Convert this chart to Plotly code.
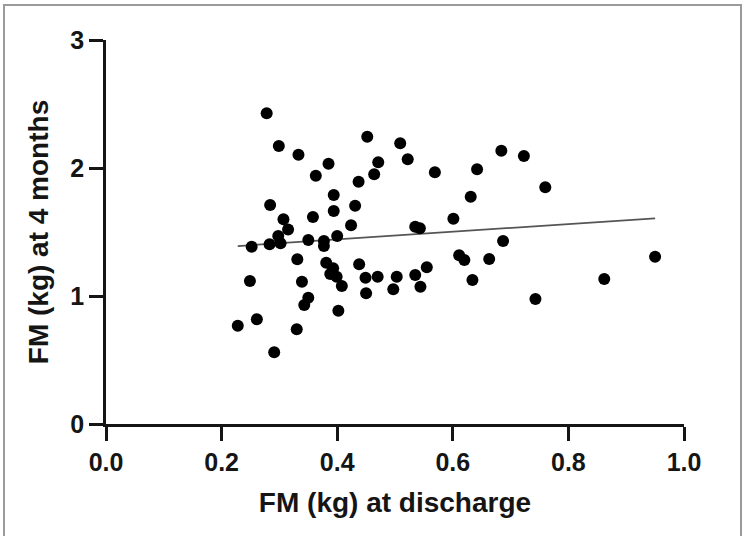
import plotly.graph_objects as go

# FM (kg) at discharge
fm_discharge = [
    0.278, 0.299, 0.333, 0.385, 0.363, 0.394, 0.394, 0.284, 0.307, 0.358,
    0.315, 0.298, 0.252, 0.283, 0.302, 0.350, 0.377, 0.377, 0.400, 0.331,
    0.381, 0.393, 0.388, 0.399, 0.408, 0.249, 0.339, 0.350, 0.343, 0.402,
    0.228, 0.261, 0.330, 0.291, 0.452, 0.509, 0.522, 0.471, 0.464, 0.437,
    0.569, 0.431, 0.424, 0.535, 0.543, 0.601, 0.631, 0.438, 0.449, 0.470,
    0.450, 0.503, 0.497, 0.535, 0.555, 0.544, 0.611, 0.620, 0.684, 0.723,
    0.642, 0.760, 0.687, 0.663, 0.634, 0.862, 0.950, 0.743,
]
# FM (kg) at 4 months
fm_4months = [
    2.427, 2.172, 2.104, 2.034, 1.940, 1.789, 1.664, 1.711, 1.599, 1.617,
    1.520, 1.469, 1.385, 1.404, 1.412, 1.438, 1.430, 1.390, 1.469, 1.287,
    1.260, 1.216, 1.172, 1.151, 1.078, 1.117, 1.112, 0.987, 0.930, 0.885,
    0.768, 0.818, 0.740, 0.560, 2.245, 2.193, 2.068, 2.045, 1.951, 1.893,
    1.966, 1.705, 1.552, 1.541, 1.529, 1.604, 1.776, 1.248, 1.143, 1.151,
    1.021, 1.151, 1.052, 1.164, 1.224, 1.073, 1.318, 1.281, 2.135, 2.094,
    1.990, 1.849, 1.430, 1.289, 1.125, 1.133, 1.307, 0.977,
]

# regression line
fit_slope = 0.30
fit_intercept = 1.322

x_ticks = [0.0, 0.2, 0.4, 0.6, 0.8, 1.0]
x_tick_labels = ["0.0", "0.2", "0.4", "0.6", "0.8", "1.0"]
y_ticks = [0, 1, 2, 3]
y_tick_labels = ["0", "1", "2", "3"]

x_min = min(fm_discharge)
x_max = max(fm_discharge)
fit_x = [x_min, x_max]
fit_y = [fit_intercept + fit_slope * v for v in fit_x]

FONT = "Liberation Sans, Arial, sans-serif"
INK = "#151515"

fig = go.Figure()
fig.add_trace(go.Scatter(
    x=fit_x, y=fit_y, mode="lines",
    line=dict(color="#555555", width=1.8),
    hoverinfo="skip", showlegend=False,
))
fig.add_trace(go.Scatter(
    x=fm_discharge, y=fm_4months, mode="markers",
    marker=dict(color="black", size=12, line=dict(width=0)),
    cliponaxis=False, showlegend=False,
))

W, H = 744, 536
L, R, T, B = 106, 60, 40, 112
pw = W - L - R
ph = H - T - B

def px2paper_x(px):
    return (px - L) / pw

def px2paper_y(py):
    return (H - B - py) / ph

fig.add_shape(
    type="rect", xref="paper", yref="paper",
    x0=px2paper_x(4), x1=px2paper_x(741),
    y0=px2paper_y(545), y1=px2paper_y(5),
    line=dict(color="#9a9a9a", width=2), fillcolor="rgba(0,0,0,0)",
    layer="below",
)

fig.update_layout(
    width=W, height=H,
    margin=dict(l=L, r=R, t=T, b=B, pad=0),
    paper_bgcolor="white", plot_bgcolor="white",
    font=dict(family=FONT, color=INK),
    xaxis=dict(
        range=[0, 1], tickmode="array", tickvals=x_ticks, ticktext=x_tick_labels,
        showgrid=False, zeroline=False, showline=True, linecolor=INK, linewidth=2.5,
        ticks="outside", ticklen=14, tickwidth=2.5, tickcolor=INK,
        tickfont=dict(size=25, family=FONT, color=INK, weight="bold"),
        title=dict(text="<b>FM (kg) at discharge</b>", font=dict(size=28, family=FONT, color=INK), standoff=18),
        fixedrange=True,
    ),
    yaxis=dict(
        range=[0, 3], tickmode="array", tickvals=y_ticks, ticktext=y_tick_labels,
        showgrid=False, zeroline=False, showline=True, linecolor=INK, linewidth=2.5,
        ticks="outside", ticklen=14, tickwidth=2.5, tickcolor=INK,
        tickfont=dict(size=25, family=FONT, color=INK, weight="bold"),
        title=dict(text="<b>FM (kg) at 4 months</b>", font=dict(size=28, family=FONT, color=INK), standoff=14),
        fixedrange=True,
    ),
)

fig.write_html("out.html")
